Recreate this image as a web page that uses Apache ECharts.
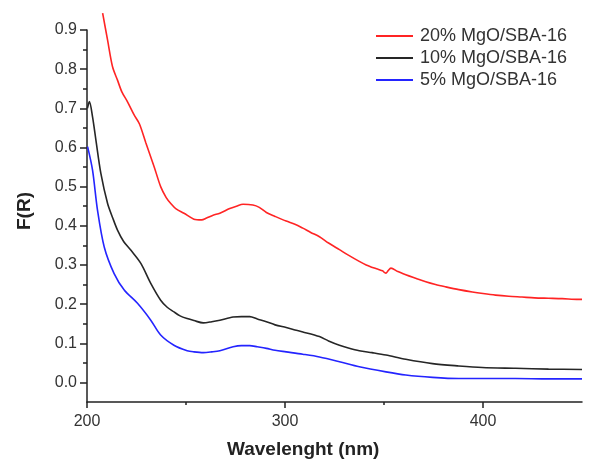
<!DOCTYPE html>
<html>
<head>
<meta charset="utf-8">
<script src="https://cdn.jsdelivr.net/npm/echarts@6/dist/echarts.min.js"></script>
<style>
html,body{margin:0;padding:0;background:#fff;}
#chart{width:595px;height:460px;}
</style>
</head>
<body>
<div id="chart"></div>
<script>
// ---- data ----
var seriesNames = ['20% MgO/SBA-16', '10% MgO/SBA-16', '5% MgO/SBA-16'];

var redX = [207.9, 210.4, 212.9, 215.4, 217.6, 220.4, 223.8, 226.5, 229.7, 233.9, 237.2, 240, 242.3, 245, 249, 254, 257.9, 260.4, 263.7, 267.1, 272.1, 275.5, 278.8, 283.8, 287, 290.6, 295, 300.6, 305, 309, 313, 317.4, 322, 327.5, 332, 337.5, 341, 345.1, 347, 349.3, 350.2, 351, 352, 353.5, 357, 361, 366, 371.1, 376, 381.2, 387.8, 394.6, 400, 406.3, 413, 419.7, 426, 433.1, 440, 448.2, 450];
var redY = [0.943, 0.874, 0.806, 0.772, 0.742, 0.717, 0.683, 0.660, 0.612, 0.551, 0.500, 0.472, 0.457, 0.443, 0.432, 0.417, 0.415, 0.420, 0.427, 0.432, 0.444, 0.450, 0.455, 0.453, 0.447, 0.434, 0.424, 0.412, 0.404, 0.394, 0.383, 0.372, 0.356, 0.339, 0.325, 0.309, 0.300, 0.292, 0.289, 0.285, 0.281, 0.279, 0.285, 0.292, 0.283, 0.275, 0.266, 0.257, 0.250, 0.244, 0.237, 0.231, 0.227, 0.223, 0.220, 0.218, 0.216, 0.215, 0.214, 0.212, 0.212];

var blackX = [200.2, 201.2, 202.8, 204.5, 207, 210.4, 213, 215.4, 218.5, 222.1, 227.2, 232.2, 237.2, 240.5, 243.9, 247, 250.6, 254, 258.7, 263, 267.1, 273.8, 278, 282.2, 286, 290.6, 295, 300.6, 305, 309, 317.4, 322, 327.5, 332, 337.5, 344, 351, 361, 374.5, 387.8, 399.6, 416.4, 433.1, 450];
var blackY = [0.700, 0.717, 0.678, 0.619, 0.534, 0.457, 0.420, 0.389, 0.360, 0.338, 0.304, 0.253, 0.210, 0.192, 0.180, 0.170, 0.163, 0.158, 0.152, 0.155, 0.159, 0.167, 0.168, 0.168, 0.162, 0.155, 0.147, 0.140, 0.134, 0.129, 0.117, 0.106, 0.095, 0.088, 0.081, 0.076, 0.070, 0.059, 0.048, 0.042, 0.038, 0.036, 0.034, 0.033];

var blueX = [200.3, 202.8, 205.3, 208.7, 213.7, 218.8, 225.5, 232.2, 237.2, 243.9, 250.6, 254, 258.7, 263, 267.1, 273.8, 278, 282.2, 286, 290.6, 295, 300.6, 309, 317.4, 327.5, 337.5, 351, 361, 374.5, 387.8, 400, 416.4, 433, 450];
var blueY = [0.602, 0.542, 0.440, 0.346, 0.278, 0.236, 0.202, 0.159, 0.121, 0.095, 0.081, 0.078, 0.076, 0.078, 0.081, 0.091, 0.094, 0.094, 0.091, 0.087, 0.082, 0.078, 0.072, 0.065, 0.053, 0.040, 0.027, 0.019, 0.013, 0.010, 0.010, 0.010, 0.009, 0.009];

var xMajorTicks = [200, 300, 400];
var xMinorTicks = [250, 350];
var yMajorTicks = [0.0, 0.1, 0.2, 0.3, 0.4, 0.5, 0.6, 0.7, 0.8, 0.9];
var yMinorTicks = [0.05, 0.15, 0.25, 0.35, 0.45, 0.55, 0.65, 0.75, 0.85];

var xTitle = 'Wavelenght (nm)';
var yTitle = 'F(R)';

function pairs(xs, ys) { return xs.map(function (x, i) { return [x, ys[i]]; }); }

var FONT = '"Liberation Sans", Arial, sans-serif';
var AXIS_COLOR = '#222';
var TEXT_COLOR = '#333';

var chart = echarts.init(document.getElementById('chart'), null, {renderer: 'canvas'});

function xAx(ticks, len, showLine, showLabel) {
  return {
    type: 'value', min: 200, max: 450, position: 'bottom',
    axisLine: {show: showLine, onZero: false, lineStyle: {color: AXIS_COLOR, width: 1.5}},
    axisTick: {show: true, customValues: ticks, length: len, lineStyle: {color: AXIS_COLOR, width: 1.5}},
    axisLabel: {show: showLabel, customValues: ticks, margin: 12, color: TEXT_COLOR, fontSize: 16, fontFamily: FONT},
    splitLine: {show: false}
  };
}
function yAx(ticks, len, showLine, showLabel) {
  return {
    type: 'value', min: -0.05, max: 0.9, position: 'left',
    axisLine: {show: showLine, onZero: false, lineStyle: {color: AXIS_COLOR, width: 1.5}},
    axisTick: {show: true, customValues: ticks, length: len, lineStyle: {color: AXIS_COLOR, width: 1.5}},
    axisLabel: {show: showLabel, customValues: ticks, margin: 10, color: TEXT_COLOR, fontSize: 16, fontFamily: FONT,
      formatter: function (v) { return v.toFixed(1); }},
    splitLine: {show: false}
  };
}

var colors = ['#ff2424', '#262626', '#2424ff'];
var datasets = [pairs(redX, redY), pairs(blackX, blackY), pairs(blueX, blueY)];

var option = {
  animation: false,
  backgroundColor: '#fff',
  grid: {left: 87, right: 13, top: 30, bottom: 58, containLabel: false},
  xAxis: [xAx(xMajorTicks, 6, true, true), xAx(xMinorTicks, 3, false, false)],
  yAxis: [yAx(yMajorTicks, 7, true, true), yAx(yMinorTicks, 4, false, false)],
  legend: {
    orient: 'vertical', left: 376, top: 25, itemGap: 0, padding: 0,
    itemWidth: 37, itemHeight: 2, icon: 'rect',
    textStyle: {color: TEXT_COLOR, fontSize: 18, fontFamily: FONT, lineHeight: 22, padding: [0, 0, 0, 2]},
    data: seriesNames
  },
  graphic: [
    {type: 'text', top: 440, left: 227, z: 10, style: {text: xTitle, font: 'bold 19px ' + FONT, fill: '#222'}},
    {type: 'text', rotation: Math.PI / 2, x: 15, y: 230, style: {text: yTitle, font: 'bold 19px ' + FONT, fill: '#222', textVerticalAlign: 'top'}}
  ],
  series: seriesNames.map(function (n, i) {
    return {
      name: n, type: 'line', xAxisIndex: 0, yAxisIndex: 0,
      data: datasets[i], symbol: 'none', smooth: 0.3, clip: false,
      lineStyle: {color: colors[i], width: 1.6}, itemStyle: {color: colors[i]}
    };
  })
};
chart.setOption(option);
</script>
</body>
</html>
